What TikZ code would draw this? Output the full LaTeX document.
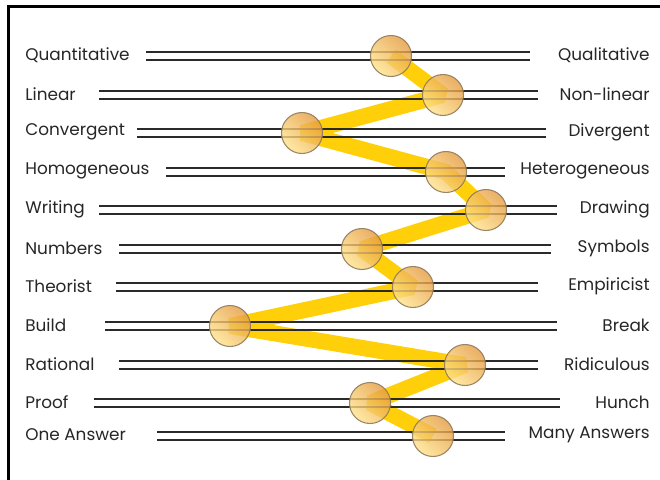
\documentclass[tikz,border=0pt]{standalone}
\usepackage{fontspec}
\setmainfont{Poppins}
\definecolor{band}{HTML}{FFD00A}
\definecolor{balllight}{HTML}{FFE38C}
\definecolor{balldark}{HTML}{E59A3E}
\definecolor{ballrim}{HTML}{8F7A5C}
\definecolor{rail}{HTML}{2A2A2A}
\begin{document}
\begin{tikzpicture}[x=0.02cm, y=-0.02cm,
        label/.style={font=\fontsize{9.6}{11}\selectfont, text=black!85, inner sep=0pt},
        rail/.style={draw=rail, line width=0.8pt},
        slider/.style={circle, minimum size=41*0.02cm, inner sep=0pt, draw=ballrim,
            line width=0.6pt, top color=balldark, bottom color=balllight,
            shading angle=-45, fill opacity=0.8, draw opacity=0.9}]
    \useasboundingbox (0,0) rectangle (660,480);
    % frame
    \draw[line width=1.6pt] (8.5,480) -- (8.5,6.5) -- (660,6.5);

    % ball centres
    \foreach \i/\yy/\bx in {1/56/391, 2/95/443, 3/133/302, 4/172/446, 5/210/486,
        6/249/362, 7/287/413, 8/326/230, 9/365/465, 10/403/370, 11/436/433}
        \coordinate (c\i) at (\bx,\yy);

    % the yellow trail between the balls
    \draw[band, line width=16*0.02cm, line join=miter, miter limit=1.6]
        (c1) -- (c2) -- (c3) -- (c4) -- (c5) -- (c6) -- (c7) -- (c8) -- (c9)
        -- (c10) -- (c11);

    % rails and labels
    \foreach \i/\yy/\xa/\xb/\lt/\rt in {
        1/56/146/530/Quantitative/Qualitative,
        2/95/99/538/Linear/Non-linear,
        3/133/137/546/Convergent/Divergent,
        4/172/166/505/Homogeneous/Heterogeneous,
        5/210/99/557/Writing/Drawing,
        6/249/119/551/Numbers/Symbols,
        7/287/116/538/Theorist/Empiricist,
        8/326/105/557/Build/Break,
        9/365/119/538/Rational/Ridiculous,
        10/403/94/560/Proof/Hunch,
        11/436/157/505/One Answer/Many Answers}{
        \node[label, anchor=west] (l\i) at (25,\yy-1) {\lt};
        \node[label, anchor=east] (r\i) at (650,\yy-1) {\rt};
        \coordinate (s\i) at (\xa,\yy);
        \coordinate (e\i) at (\xb,\yy);
        \draw[rail] ([yshift=4*0.02cm]s\i) -- ([yshift=4*0.02cm]e\i);
        \draw[rail] ([yshift=-4*0.02cm]s\i) -- ([yshift=-4*0.02cm]e\i);
    }

    % sliders
    \foreach \i in {1,...,11}
        \node[slider] (b\i) at (c\i) {};
\end{tikzpicture}
\end{document}
